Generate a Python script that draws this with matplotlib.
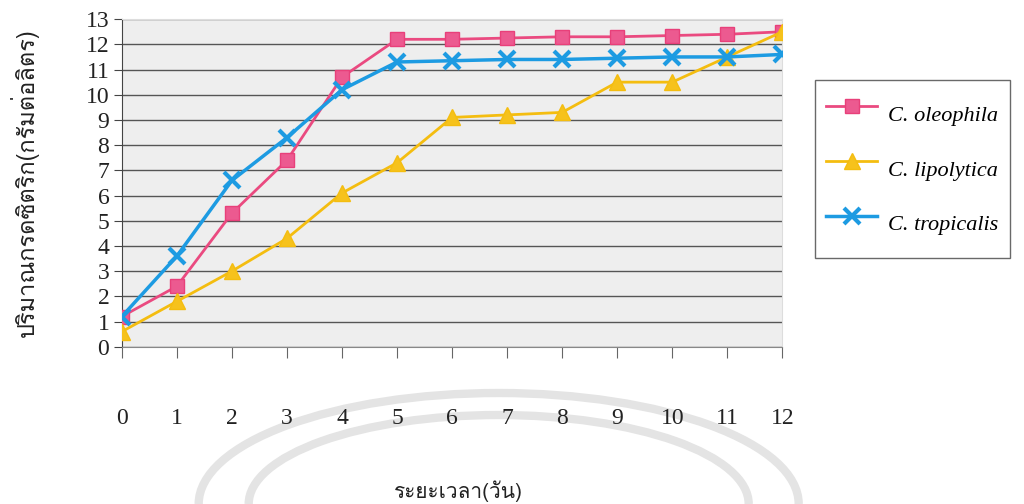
import numpy as np
import matplotlib.pyplot as plt
from matplotlib import font_manager as fm
from matplotlib.ft2font import FT2Font
from matplotlib.patches import Arc

days = list(range(13))
oleophila = [1.2, 2.4, 5.3, 7.4, 10.7, 12.2, 12.2, 12.25, 12.3, 12.3, 12.35, 12.4, 12.5]
lipolytica = [0.6, 1.8, 3.0, 4.3, 6.1, 7.3, 9.1, 9.2, 9.3, 10.5, 10.5, 11.5, 12.5]
tropicalis = [1.2, 3.6, 6.6, 8.3, 10.2, 11.3, 11.35, 11.4, 11.4, 11.45, 11.5, 11.5, 11.6]

ylabel = "ปริมาณกรดซิตริก(กรัมต่อลิตร)"
xlabel = "ระยะเวลา(วัน)"

# find something that can draw Thai
thai_font = "DejaVu Sans"
for f in fm.fontManager.ttflist:
    try:
        if FT2Font(f.fname).get_char_index(ord("ก")):
            thai_font = f.name
            break
    except Exception:
        pass

serif = "Liberation Serif"

fig = plt.figure(figsize=(10.24, 5.04), dpi=100)
fig.patch.set_facecolor("white")

# faint watermark arcs at the bottom
for w, h in [(600, 111), (500, 89)]:
    arc = Arc((0.487, 0.0), w / 1024, 2 * h / 504, theta1=0, theta2=180,
              transform=fig.transFigure, color="#e4e4e4", lw=6, zorder=0)
    fig.add_artist(arc)

ax = fig.add_axes([0.119, 0.312, 0.645, 0.65])
ax.set_facecolor("#eeeeee")

ax.plot(days, oleophila, color="#ea4a80", lw=2, marker="s", ms=10,
        mfc="#ec5a90", mec="#e8407a", label="C. oleophila", zorder=3)
ax.plot(days, lipolytica, color="#f4bd10", lw=2, marker="^", ms=11,
        mfc="#f6c21c", mec="#f4bd10", label="C. lipolytica", zorder=3)
ax.plot(days, tropicalis, color="#1d9be2", lw=2.5, marker="x", ms=11,
        mew=3, label="C. tropicalis", zorder=4)

ax.set_xlim(0, 12)
ax.set_ylim(0, 13)
ax.set_yticks(range(14))
ax.set_xticks(days)
ax.grid(axis="y", color="#555555", lw=1)
ax.set_axisbelow(True)

for side in ["top", "right"]:
    ax.spines[side].set_color("#dddddd")
ax.spines["left"].set_color("#444444")
ax.spines["bottom"].set_color("#888888")

ax.tick_params(axis="y", length=6, color="#444444", labelsize=17, pad=3)
ax.tick_params(axis="x", length=8, color="#666666", labelsize=17, pad=36)
for lbl in ax.get_xticklabels() + ax.get_yticklabels():
    lbl.set_family(serif)
    lbl.set_color("#222222")

ax.set_ylabel(ylabel, family=[thai_font, "DejaVu Sans"], fontsize=17,
              color="#222222", va="center")
ax.yaxis.set_label_coords(-0.147, 0.5)
ax.set_xlabel(xlabel, family=[thai_font, "DejaVu Sans"], fontsize=15,
              color="#222222", va="center")
ax.xaxis.set_label_coords(0.51, -0.44)

leg = fig.legend(loc="upper left", bbox_to_anchor=(0.796, 0.841),
                 prop={"family": serif, "style": "italic", "size": 16},
                 frameon=True, fancybox=False, edgecolor="#444444",
                 labelspacing=0.4, handleheight=2.8, borderpad=0.5,
                 handlelength=2.3, handletextpad=0.5, borderaxespad=0)
leg.get_frame().set_linewidth(1)

fig.savefig("out.png", dpi=100)
